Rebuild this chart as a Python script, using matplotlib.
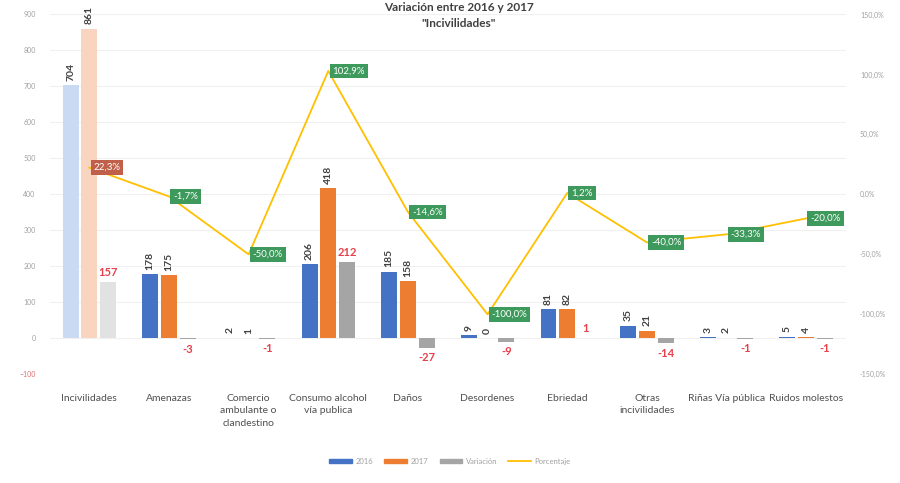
import numpy as np
import matplotlib.pyplot as plt
from matplotlib.ticker import FuncFormatter
from matplotlib.patches import Patch

plt.rcParams['font.family'] = ['Lato', 'DejaVu Sans']

categorias = ['Incivilidades', 'Amenazas', 'Comercio\nambulante o\nclandestino',
              'Consumo alcohol\nvía publica', 'Daños', 'Desordenes', 'Ebriedad',
              'Otras\nincivilidades', 'Riñas Vía pública', 'Ruidos molestos']
v2016 = [704, 178, 2, 206, 185, 9, 81, 35, 3, 5]
v2017 = [861, 175, 1, 418, 158, 0, 82, 21, 2, 4]
variacion = [157, -3, -1, 212, -27, -9, 1, -14, -1, -1]
porcentaje = [22.3, -1.7, -50.0, 102.9, -14.6, -100.0, 1.2, -40.0, -33.3, -20.0]

c16 = '#4472C4'
c17 = '#ED7D31'
cvar = '#A5A5A5'
cline = '#FFC000'
cred = '#E8404A'
cgreen = '#3E9A5C'

x = np.arange(len(categorias))
w = 0.2
off = 0.235

fig = plt.figure(figsize=(9, 4.83), dpi=100)
ax = fig.add_axes([0.055, 0.225, 0.885, 0.745])
ax2 = ax.twinx()

# first group looks washed out in the photo
col16 = [c16] * len(x)
col17 = [c17] * len(x)
colv = [cvar] * len(x)
col16[0], col17[0], colv[0] = '#C9DAF2', '#F9D5C0', '#E2E2E2'

ax.bar(x - off, v2016, w, color=col16, zorder=2)
ax.bar(x, v2017, w, color=col17, zorder=2)
ax.bar(x + off, variacion, w, color=colv, zorder=2)

for i in range(len(x)):
    ax.text(x[i] - off, v2016[i] + 12, str(v2016[i]), rotation=90, ha='center', va='bottom',
            fontsize=7.5, color='#404040', fontweight='bold')
    ax.text(x[i], v2017[i] + 12, str(v2017[i]), rotation=90, ha='center', va='bottom',
            fontsize=7.5, color='#404040', fontweight='bold')
    if variacion[i] >= 0:
        ax.text(x[i] + off, variacion[i] + 12, str(variacion[i]), ha='center', va='bottom',
                fontsize=8, color=cred, fontweight='bold')
    else:
        ax.text(x[i] + off, variacion[i] - 12, str(variacion[i]), ha='center', va='top',
                fontsize=8, color=cred, fontweight='bold')

ax.set_ylim(-100, 900)
ax.set_yticks(np.arange(-100, 901, 100))
ax.set_xlim(-0.5, len(x) - 0.5)
ax.set_xticks(x)
ax.set_xticklabels(categorias, fontsize=7.5, color='#505050', linespacing=1.5)
ax.tick_params(axis='x', length=0, pad=14)
ax.tick_params(axis='y', length=0, labelsize=5, labelcolor='#A0A0A0', pad=10)
ax.yaxis.get_ticklabels()[0].set_color('#E07070')
ax.grid(axis='y', color='#F0F0F0', linewidth=0.8, zorder=0)
for s in ax.spines.values():
    s.set_visible(False)

ax2.plot(x, porcentaje, color=cline, linewidth=1.3, zorder=3)
ax2.set_ylim(-150, 150)
ax2.set_yticks(np.arange(-150, 151, 50))
ax2.yaxis.set_major_formatter(FuncFormatter(lambda v, p: ('%.1f%%' % v).replace('.', ',')))
ax2.tick_params(axis='y', length=0, labelsize=5, labelcolor='#A0A0A0', pad=10)
for s in ax2.spines.values():
    s.set_visible(False)

for i in range(len(x)):
    fc = '#C0604A' if i == 0 else cgreen
    ax2.annotate(('%.1f%%' % porcentaje[i]).replace('.', ','), (x[i], porcentaje[i]),
                 xytext=(3, 0), textcoords='offset points', ha='left', va='center',
                 fontsize=7, color='white',
                 bbox=dict(boxstyle='square,pad=0.3', fc=fc, ec='none'), zorder=5)

fig.text(0.51, 0.995, 'Variación entre 2016 y 2017', ha='center', va='top',
         fontsize=8.5, fontweight='bold', color='#404040')
fig.text(0.51, 0.962, '"Incivilidades"', ha='center', va='top',
         fontsize=8.5, fontweight='bold', color='#404040')

handles = [Patch(color=c16), Patch(color=c17), Patch(color=cvar),
           plt.Line2D([], [], color=cline, linewidth=1.3)]
labels = ['2016', '2017', 'Variación', 'Porcentaje']
leg = fig.legend(handles, labels, loc='center', bbox_to_anchor=(0.5, 0.045), ncol=4,
                 frameon=False, fontsize=5.5, handlelength=3, handleheight=0.6,
                 columnspacing=1.5, handletextpad=0.4)
for t in leg.get_texts():
    t.set_color('#A0A0A0')

fig.savefig('out.png', dpi=100, facecolor='white')
